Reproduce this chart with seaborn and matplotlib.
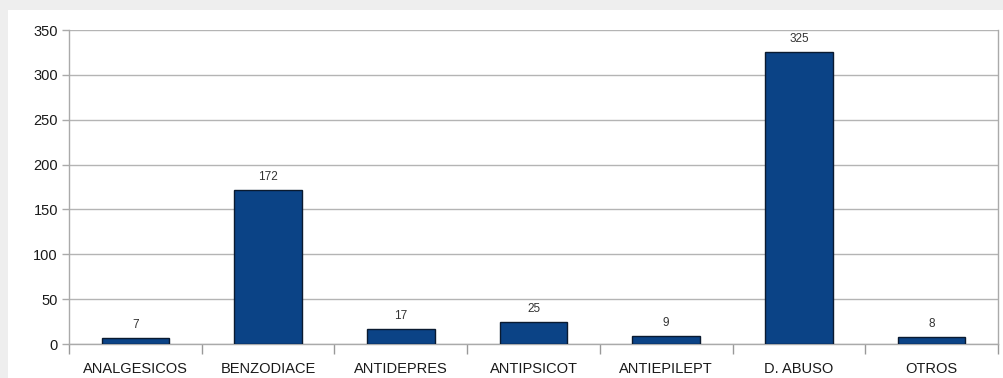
import numpy as np
import pandas as pd
import matplotlib
matplotlib.use('Agg')
import matplotlib.pyplot as plt
from matplotlib.patches import Rectangle
import seaborn as sns

# datos del gráfico
categorias = ['ANALGESICOS', 'BENZODIACE', 'ANTIDEPRES', 'ANTIPSICOT',
              'ANTIEPILEPT', 'D. ABUSO', 'OTROS']
valores = [7, 172, 17, 25, 9, 325, 8]
etiquetas_y = [0, 50, 100, 150, 200, 250, 300, 350]

df = pd.DataFrame({'categoria': categorias, 'valor': valores})

sns.set_style('white')
plt.rcParams['font.family'] = ['Liberation Sans', 'DejaVu Sans']

fig = plt.figure(figsize=(10.04, 3.78), dpi=100)
fig.patch.set_facecolor('#eeeeee')
# panel blanco detrás del gráfico
fig.patches.append(Rectangle((8 / 1004, 0), 1 - 8 / 1004, 1 - 10 / 378,
                             transform=fig.transFigure, facecolor='white',
                             edgecolor='none', zorder=-10))

ax = fig.add_axes([69 / 1004, 34 / 378, (998 - 69) / 1004, (344 - 30) / 378])
ax.set_facecolor('white')

sns.barplot(data=df, x='categoria', y='valor', color='#0b4386',
            edgecolor='#0a1a30', linewidth=1.0, width=0.51, saturation=1,
            ax=ax, zorder=3)

ax.set_ylim(0, 350)
ax.set_xlim(-0.5, len(categorias) - 0.5)
ax.set_yticks(etiquetas_y)
ax.set_yticklabels([str(v) for v in etiquetas_y], fontsize=10.5, color='#1a1a1a')
ax.set_xticks(range(len(categorias)))
ax.set_xticklabels(categorias, fontsize=10.5, color='#1a1a1a')
ax.set_xticks(np.arange(-0.5, len(categorias) + 0.5, 1), minor=True)
ax.tick_params(axis='x', which='major', bottom=False, length=0, pad=13)
ax.tick_params(axis='x', which='minor', bottom=True, length=7,
               color='#999999', width=1)
ax.tick_params(axis='y', left=True, length=5, color='#aaaaaa', width=1, pad=3)
ax.set_xlabel('')
ax.set_ylabel('')

ax.grid(axis='y', color='#b4b4b4', linewidth=1.0, zorder=0)
ax.set_axisbelow(True)
for lado in ['left', 'right', 'top', 'bottom']:
    ax.spines[lado].set_color('#aaaaaa')
    ax.spines[lado].set_linewidth(1.0)
ax.spines['top'].set_visible(False)

for i, v in enumerate(valores):
    ax.annotate(str(v), (i, v), xytext=(0, 5), textcoords='offset points',
                ha='center', va='bottom', fontsize=8.5, color='#333333')

fig.savefig('out.png', dpi=100, facecolor=fig.get_facecolor())
